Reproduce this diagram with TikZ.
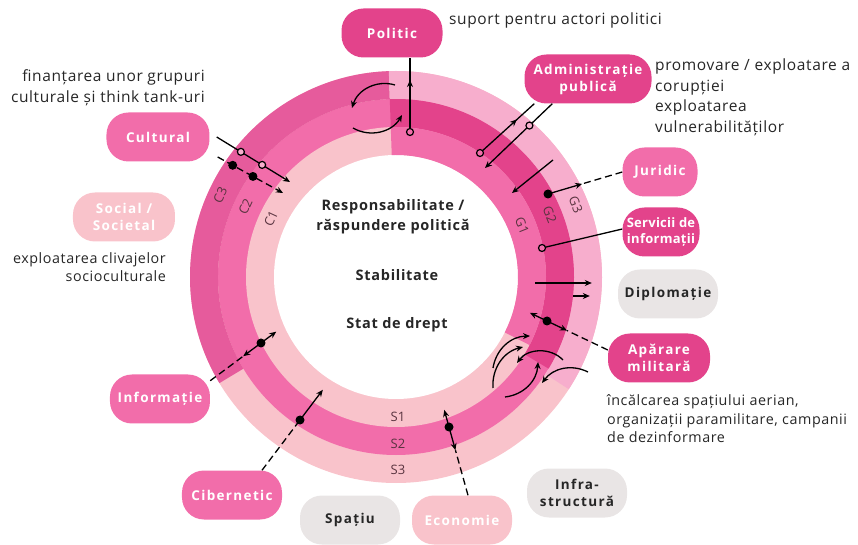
\documentclass[tikz,border=0pt]{standalone}
\usepackage{fontspec}
\setmainfont{Open Sans}
\newfontfamily\boxfont{Open Sans}[LetterSpace=10]
\newfontfamily\notefont{Open Sans}[LetterSpace=4]
\newfontfamily\midfont{Open Sans}[LetterSpace=5]
\usetikzlibrary{positioning,calc,arrows.meta,decorations.markings}
\definecolor{pinkdark}{HTML}{E3438B}
\definecolor{pinkc}{HTML}{E65B9C}
\definecolor{pinkhot}{HTML}{F26DAA}
\definecolor{pinklight}{HTML}{F9C3CB}
\definecolor{pinkg}{HTML}{F7AECD}
\definecolor{greyish}{HTML}{E9E5E5}
\definecolor{labtxt}{HTML}{5A3440}
\begin{document}
\begin{tikzpicture}[x=1pt,y=1pt,
    box/.style={rounded corners=22pt, minimum width=100pt, minimum height=49pt, inner sep=2pt,
      align=center, text=white, font=\boxfont\bfseries\fontsize{13.5}{17}\selectfont},
    greybox/.style={box, fill=greyish, text=black!85},
    note/.style={inner sep=0pt, text=black!85, font=\notefont\fontsize{15.5}{20.5}\selectfont},
    smallnote/.style={note, font=\notefont\fontsize{14.3}{18.5}\selectfont},
    midtext/.style={align=center, text=black!85, font=\midfont\bfseries\fontsize{14.5}{20}\selectfont},
    bandlab/.style={inner sep=0pt, text=labtxt, font=\fontsize{13}{15}\selectfont},
    con/.style={line width=1.3pt},
    arr/.style={-{Stealth[length=7pt,width=6pt]}},
    dsh/.style={dash pattern=on 7pt off 4pt},
    midarr/.style={decoration={markings, mark=at position #1 with {\arrow{Stealth[length=7pt,width=6pt]}}}, postaction=decorate}]
    \useasboundingbox (-396,-268) rectangle (462,277);
    % rings
    \fill[pinklight] (0,0) circle[radius=206];
    \fill[pinkhot] (0,0) circle[radius=178];
    \fill[pinklight] (0,0) circle[radius=150];
    \fill[white] (0,0) circle[radius=122];
    \fill[pinkc] (92:206) arc[start angle=92, end angle=211, radius=206] -- (211:178) arc[start angle=211, end angle=92, radius=178] -- cycle;
    \fill[pinkg] (92:206) arc[start angle=92, end angle=-33, radius=206] -- (-33:178) arc[start angle=-33, end angle=92, radius=178] -- cycle;
    \fill[pinkdark] (92:178) arc[start angle=92, end angle=-31, radius=178] -- (-31:150) arc[start angle=-31, end angle=92, radius=150] -- cycle;
    \fill[pinkhot] (92:150) arc[start angle=92, end angle=-27, radius=150] -- (-27:122) arc[start angle=-27, end angle=92, radius=122] -- cycle;
    \node[bandlab, rotate=65] (c3) at (155:194) {C3};
    \node[bandlab, rotate=65] (c2) at (155:166) {C2};
    \node[bandlab, rotate=65] (c1) at (155:138) {C1};
    \node[bandlab, rotate=-68] (g3) at (22:194) {G3};
    \node[bandlab, rotate=-68] (g2) at (22:166) {G2};
    \node[bandlab, rotate=-68] (g1) at (22:136) {G1};
    \node[bandlab] (s1) at (2,-140) {S1};
    \node[bandlab] (s2) at (2,-167) {S2};
    \node[bandlab] (s3) at (2,-193) {S3};
    \node[midtext] (resp) at (-3,60) {Responsabilitate /\\răspundere politică};
    \node[midtext] (stab) at (1,2) {Stabilitate};
    \node[midtext] (stat) at (1,-48) {Stat de drept};
    % boxes
    \node[box, fill=pinkdark, minimum width=101pt] (politic) at (-4,244) {Politic};
    \node[box, fill=pinkdark, minimum width=127pt] (admin) at (192,198) {Administrație\\publică};
    \node[box, fill=pinkhot, minimum width=75pt] (juridic) at (264,105) {Juridic};
    \node[box, fill=pinkdark, minimum width=77pt,
      font=\boxfont\bfseries\addfontfeature{LetterSpace=2}\fontsize{13}{16.5}\selectfont] (servicii) at (265,45) {Servicii de\\informații};
    \node[greybox] (diplo) at (272,-17) {Diplomație};
    \node[box, fill=pinkdark, minimum width=102pt] (aparare) at (263,-81) {Apărare\\militară};
    \node[box, fill=pinkhot, minimum width=103pt] (cultural) at (-238,140) {Cultural};
    \node[box, fill=pinklight, minimum width=102pt] (social) at (-272,60) {Social /\\Societal};
    \node[box, fill=pinkhot] (informatie) at (-236,-122) {Informație};
    \node[box, fill=pinkhot] (cibernetic) at (-164,-218) {Cibernetic};
    \node[greybox] (spatiu) at (-46,-243) {Spațiu};
    \node[box, fill=pinklight] (economie) at (66,-243) {Economie};
    \node[greybox] (infra) at (181,-216) {Infra-\\structură};
    % notes
    \node[note, anchor=west] (n1) at (53,257) {suport pentru actori politici};
    \node[note, anchor=west, align=left] (n2) at (259,200) {promovare / exploatare a\\corupției};
    \node[note, anchor=west, align=left] (n3) at (259,159) {exploatarea\\vulnerabilităților};
    \node[note, anchor=east, align=right] (n4) at (-191,189) {finanțarea unor grupuri\\culturale și think tank-uri};
    \node[smallnote, anchor=east, align=right] (n5) at (-230,10) {exploatarea clivajelor\\socioculturale};
    \node[smallnote, anchor=west, align=left] (n6) at (211,-142) {încălcarea spațiului aerian,\\organizații paramilitare, campanii\\de dezinformare};
    % politic
    \coordinate (pol) at (14,145);
    \draw[con, midarr=0.7] (pol) -- (pol |- politic.south);
    \filldraw[fill=pinkhot, line width=1.2pt] (pol) circle[radius=3.5];
    \draw[con, arr] (-1,192) to[bend right=45] (-44,169);
    \draw[con, arr] (-43,149) to[bend right=45] (6,162);
    % administratie
    \coordinate (adA) at (84,124);
    \coordinate (adB) at (89,109);
    \draw[con, midarr=0.68] (adA) -- ([xshift=10pt]admin.south west);
    \filldraw[fill=pinkhot, line width=1.2pt] (adA) circle[radius=3.5];
    \draw[con, arr] ([xshift=28pt]admin.south west) -- (adB);
    \filldraw[fill=pinkg, line width=1.2pt] ($([xshift=28pt]admin.south west)!0.34!(adB)$) circle[radius=3.5];
    \coordinate (gv1) at (157,117);
    \coordinate (gv2) at (116,84);
    \draw[con, arr] (gv1) -- (gv2);
    % juridic, servicii
    \coordinate (jur) at (152,83);
    \draw[con, dsh] (juridic.west) -- ($(jur)!0.46!(juridic.west)$);
    \draw[con, arr] (jur) -- ($(jur)!0.46!(juridic.west)$);
    \fill (jur) circle[radius=4.5];
    \coordinate (srv) at (146,29);
    \draw[con] (srv) -- ([yshift=3pt]servicii.west);
    \filldraw[fill=pinkhot, line width=1.2pt] (srv) circle[radius=3.5];
    % diplomatie
    \coordinate (dp1) at (139,-6);
    \coordinate (dp2) at (177,-19);
    \draw[con, arr] (dp1) -- ([xshift=-26pt]diplo.west |- dp1);
    \draw[con, arr] (dp2) -- ([xshift=-28pt]diplo.west |- dp2);
    % aparare
    \coordinate (ap) at (151,-44);
    \draw[con, dsh] ([yshift=8pt]aparare.west) -- ($(ap)!0.33!([yshift=8pt]aparare.west)$);
    \draw[con, arr] (ap) -- ($(ap)!0.33!([yshift=8pt]aparare.west)$);
    \draw[con, arr] (ap) -- ($(ap)!-0.28!([yshift=8pt]aparare.west)$);
    \fill (ap) circle[radius=4.5];
    \draw[con, arr] (97,-91) to[bend left=40] (134,-59);
    \draw[con, arr] (97,-111) to[bend left=40] (127,-70);
    \draw[con, arr] (167,-83) to[bend right=50] (121,-86);
    \draw[con, arr] (109,-120) to[bend right=40] (142,-85);
    \draw[con, arr] (192,-95) to[bend right=40] (146,-106);
    % cultural
    \coordinate (cuA) at (-106,95);
    \coordinate (cuB) at (-113,84);
    \draw[con, arr] ([xshift=7pt]cultural.east) -- (cuA);
    \filldraw[fill=pinkg, line width=1.2pt] ($([xshift=7pt]cultural.east)!0.33!(cuA)$) circle[radius=3.5];
    \filldraw[fill=pinkg, line width=1.2pt] ($([xshift=7pt]cultural.east)!0.62!(cuA)$) circle[radius=3.5];
    \draw[con, dsh, arr] ([xshift=8pt,yshift=-20pt]cultural.east) -- (cuB);
    \fill ($([xshift=8pt,yshift=-20pt]cultural.east)!0.23!(cuB)$) circle[radius=4.5];
    \fill ($([xshift=8pt,yshift=-20pt]cultural.east)!0.54!(cuB)$) circle[radius=4.5];
    % informatie, cibernetic, economie
    \coordinate (inf) at (-135,-66);
    \draw[con, dsh] (informatie.20) -- ($(informatie.20)!0.65!(inf)$);
    \draw[con, arr] (inf) -- ($(informatie.20)!0.65!(inf)$);
    \draw[con, arr] (inf) -- ($(inf)!-0.3!(informatie.20)$);
    \fill (inf) circle[radius=4.5];
    \coordinate (cib) at (-96,-143);
    \draw[con, dsh] ([xshift=30pt]cibernetic.north) -- (cib);
    \draw[con, arr] (cib) -- ($(cib)!-0.6!([xshift=30pt]cibernetic.north)$);
    \fill (cib) circle[radius=4.5];
    \coordinate (eco) at (53,-150);
    \draw[con, dsh] ([xshift=6pt]economie.north) -- ($(eco)!0.34!([xshift=6pt]economie.north)$);
    \draw[con, arr] (eco) -- ($(eco)!0.34!([xshift=6pt]economie.north)$);
    \draw[con, arr] (eco) -- ($(eco)!-0.25!([xshift=6pt]economie.north)$);
    \fill (eco) circle[radius=4.5];
\end{tikzpicture}
\end{document}
